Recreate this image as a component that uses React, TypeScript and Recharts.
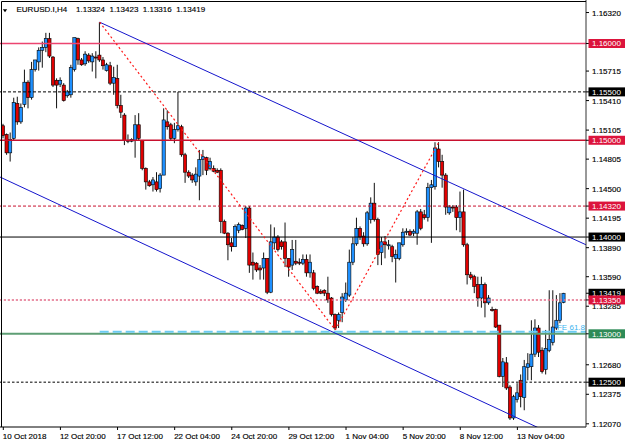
import React from 'react';
import { ComposedChart, Bar, XAxis, YAxis, ReferenceLine } from 'recharts';

const opens = [1.1515,1.1506,1.1487,1.1502,1.1538,1.1519,1.1537,1.1560,1.1544,1.1573,
1.1581,1.1593,1.1596,1.1605,1.1586,1.1562,1.1558,1.1557,1.1546,1.1547,
1.1573,1.1605,1.1583,1.1579,1.1588,1.1581,1.1586,1.1588,1.1583,1.1572,
1.1577,1.1559,1.1564,1.1536,1.1526,1.1500,1.1499,1.1500,1.1516,1.1500,
1.1471,1.1457,1.1454,1.1457,1.1450,1.1464,1.1519,1.1516,1.1502,1.1511,
1.1514,1.1485,1.1467,1.1464,1.1457,1.1463,1.1480,1.1482,1.1471,1.1471,
1.1469,1.1469,1.1416,1.1404,1.1394,1.1390,1.1407,1.1412,1.1409,1.1430,
1.1374,1.1373,1.1368,1.1368,1.1378,1.1343,1.1394,1.1400,1.1395,1.1395,
1.1378,1.1371,1.1375,1.1374,1.1373,1.1377,1.1363,1.1363,1.1349,1.1344,
1.1345,1.1342,1.1337,1.1320,1.1314,1.1322,1.1335,1.1340,1.1374,1.1393,
1.1409,1.1401,1.1393,1.1418,1.1435,1.1418,1.1384,1.1395,1.1391,1.1390,
1.1378,1.1378,1.1392,1.1405,1.1406,1.1404,1.1404,1.1426,1.1423,1.1420,
1.1451,1.1452,1.1491,1.1478,1.1464,1.1425,1.1431,1.1431,1.1420,1.1426,
1.1392,1.1361,1.1359,1.1351,1.1337,1.1351,1.1332,1.1325,1.1325,1.1309,
1.1256,1.1270,1.1245,1.1213,1.1232,1.1252,1.1234,1.1265,1.1266,1.1279,
1.1306,1.1283,1.1263,1.1283,1.1291,1.1306,1.1314,1.13324];

const highs = [1.1517,1.1507,1.1508,1.1544,1.1545,1.1538,1.1573,1.1562,1.1581,1.1583,
1.1596,1.1602,1.1611,1.1611,1.1587,1.1564,1.1565,1.1559,1.1552,1.1578,
1.1606,1.1606,1.1585,1.1592,1.1590,1.1590,1.1592,1.1622,1.1586,1.1580,
1.1581,1.1576,1.1578,1.1547,1.1528,1.1506,1.1502,1.1526,1.1528,1.1500,
1.1472,1.1459,1.1462,1.1467,1.1466,1.1533,1.1531,1.1518,1.1518,1.1550,
1.1516,1.1487,1.1469,1.1466,1.1472,1.1490,1.1490,1.1483,1.1482,1.1474,
1.1471,1.1471,1.1418,1.1405,1.1399,1.1413,1.1415,1.1413,1.1432,1.1432,
1.1384,1.1374,1.1371,1.1384,1.1378,1.1413,1.1410,1.1402,1.1397,1.1415,
1.1378,1.1397,1.1397,1.1378,1.1382,1.1382,1.1382,1.1366,1.1350,1.1346,
1.1346,1.1359,1.1338,1.1321,1.1322,1.1342,1.1353,1.1387,1.1400,1.1420,
1.1411,1.1405,1.1427,1.1441,1.1456,1.1420,1.1400,1.1401,1.1397,1.1392,
1.1387,1.1394,1.1409,1.1409,1.1408,1.1408,1.1428,1.1429,1.1428,1.1456,
1.1459,1.1498,1.1498,1.1485,1.1466,1.1433,1.1433,1.1433,1.1447,1.1449,
1.1394,1.1364,1.1361,1.1359,1.1359,1.1353,1.1340,1.1328,1.1326,1.1309,
1.1275,1.1276,1.1247,1.1237,1.1249,1.1258,1.1273,1.1280,1.1314,1.1315,
1.1309,1.1286,1.1304,1.1345,1.1345,1.1340,1.1342,1.13423];

const lows = [1.1502,1.1485,1.1478,1.1500,1.1516,1.1517,1.1534,1.1533,1.1542,1.1571,
1.1572,1.1575,1.1591,1.1585,1.1555,1.1533,1.1555,1.1540,1.1544,1.1544,
1.1571,1.1578,1.1577,1.1577,1.1580,1.1571,1.1564,1.1581,1.1573,1.1571,
1.1557,1.1547,1.1533,1.1523,1.1495,1.1497,1.1498,1.1482,1.1500,1.1469,
1.1449,1.1452,1.1447,1.1447,1.1446,1.1464,1.1511,1.1500,1.1497,1.1509,
1.1483,1.1456,1.1461,1.1456,1.1453,1.1438,1.1464,1.1464,1.1469,1.1467,
1.1466,1.1404,1.1403,1.1376,1.1385,1.1390,1.1404,1.1407,1.1399,1.1363,
1.1356,1.1364,1.1356,1.1356,1.1341,1.1342,1.1387,1.1385,1.1387,1.1369,
1.1359,1.1366,1.1371,1.1371,1.1371,1.1359,1.1358,1.1345,1.1341,1.1341,
1.1339,1.1332,1.1318,1.1304,1.1306,1.1312,1.1333,1.1338,1.1371,1.1391,
1.1397,1.1390,1.1391,1.1414,1.1416,1.1371,1.1371,1.1378,1.1387,1.1374,
1.1353,1.1376,1.1390,1.1402,1.1401,1.1401,1.1392,1.1407,1.1418,1.1416,
1.1394,1.1449,1.1472,1.1451,1.1423,1.1423,1.1426,1.1407,1.1405,1.1390,
1.1351,1.1356,1.1342,1.1328,1.1327,1.1317,1.1330,1.1323,1.1306,1.1255,
1.1245,1.1242,1.1211,1.1211,1.1229,1.1224,1.1221,1.1252,1.1252,1.1276,
1.1276,1.1259,1.1258,1.1281,1.1288,1.1304,1.1311,1.13316];

const closes = [1.1505,1.1487,1.1501,1.1539,1.1519,1.1534,1.1560,1.1544,1.1573,1.1583,
1.1593,1.1596,1.1605,1.1587,1.1557,1.1557,1.1562,1.1541,1.1550,1.1575,
1.1606,1.1583,1.1578,1.1589,1.1582,1.1587,1.1585,1.1583,1.1577,1.1578,
1.1559,1.1565,1.1536,1.1529,1.1500,1.1499,1.1501,1.1516,1.1502,1.1471,
1.1457,1.1453,1.1459,1.1449,1.1464,1.1521,1.1514,1.1502,1.1511,1.1515,
1.1485,1.1467,1.1463,1.1459,1.1465,1.1480,1.1483,1.1469,1.1478,1.1468,
1.1467,1.1416,1.1404,1.1392,1.1390,1.1411,1.1413,1.1408,1.1430,1.1371,
1.1371,1.1366,1.1366,1.1378,1.1343,1.1395,1.1400,1.1387,1.1390,1.1378,
1.1369,1.1387,1.1373,1.1373,1.1377,1.1363,1.1374,1.1347,1.1342,1.1342,
1.1342,1.1335,1.1320,1.1306,1.1320,1.1338,1.1342,1.1374,1.1393,1.1409,
1.1400,1.1393,1.1425,1.1435,1.1418,1.1382,1.1395,1.1392,1.1392,1.1380,
1.1382,1.1394,1.1405,1.1406,1.1402,1.1406,1.1426,1.1409,1.1420,1.1451,
1.1454,1.1492,1.1478,1.1464,1.1431,1.1431,1.1430,1.1420,1.1426,1.1392,
1.1361,1.1358,1.1349,1.1337,1.1351,1.1332,1.1337,1.1324,1.1307,1.1256,
1.1271,1.1244,1.1213,1.1235,1.1239,1.1235,1.1266,1.1269,1.1279,1.1306,
1.1281,1.1261,1.1285,1.1294,1.1307,1.1314,1.1332,1.13419];

const timeLabelBars = [0, 16, 32, 48, 64, 80, 96, 112, 128, 144];
const timeLabels = ['10 Oct 2018', '12 Oct 20:00', '17 Oct 12:00', '22 Oct 04:00', '24 Oct 20:00',
  '29 Oct 12:00', '1 Nov 04:00', '5 Nov 20:00', '8 Nov 12:00', '13 Nov 04:00'];

const priceTicks = [1.1632, 1.15715, 1.1541, 1.15105, 1.14805, 1.145, 1.14195,
  1.1389, 1.1359, 1.13285, 1.1268, 1.12375, 1.1207];
const markerPrices = [1.155, 1.14, 1.125, 1.16, 1.15, 1.1432, 1.13419, 1.1335, 1.13];
const markerColors = ['#000000', '#000000', '#000000', '#DC143C', '#DC143C', '#DC143C', '#000000', '#DC143C', '#2E8B57'];

const levelPrices = [1.16, 1.155, 1.15, 1.1432, 1.14, 1.1335, 1.13, 1.125];
const levelColors = ['#EC4470', '#000000', '#C8102E', '#C8102E', '#000000', '#E4708C', '#5E9E74', '#555555'];
const levelDashes = ['', '3 2', '', '3 2', '', '2.2 1.8', '', '2.5 2'];
const levelWidths = [1.3, 1, 1.3, 1, 1, 1.6, 2, 1.4];

// fibo expansion anchors (bar index, price)
const fiboBars = [27, 93, 122];
const fiboPrices = [1.1622, 1.1304, 1.1498];
const feLevel = 1.1302;

// channel lines (bar index, price)
const upperChannelBars = [27, 163.22];
const upperChannelPrices = [1.1622, 1.1392];
const lowerChannelBars = [-0.924, 163.22];
const lowerChannelPrices = [1.1462, 1.1180];

const xDomain = [-0.924, 163.22];
const yDomain = [1.12037, 1.164495];

const FONT = 'Liberation Sans, Arial, sans-serif';
const BULL = '#1E90FF';
const BEAR = '#E00000';

const candles = opens.map((o, i) => ({ i, open: o, high: highs[i], low: lows[i], close: closes[i] }));

const Candle = (props: any) => {
  const { x, y, width, height, payload } = props;
  if (x == null || y == null) return null;
  const cx = x + width / 2;
  const top = Math.min(y, y + height);
  const h = Math.abs(height);
  const { high, low, open, close } = payload;
  const k = h / (high - low || 1e-9);
  const yo = top + (high - open) * k;
  const yc = top + (high - close) * k;
  const up = close >= open;
  const by = Math.min(yo, yc);
  const bh = Math.max(Math.abs(yc - yo), 1);
  return (
    <g>
      <line x1={cx} x2={cx} y1={top} y2={top + h} stroke="#111" strokeWidth={1} />
      <rect x={cx - 1.6} y={by} width={3.2} height={bh} fill={up ? BULL : BEAR} stroke="#000" strokeWidth={0.6} />
    </g>
  );
};

const renderXTick = (props: any) => {
  const { x, y, payload } = props;
  const idx = timeLabelBars.indexOf(payload.value);
  return (
    <text x={x - 0.5} y={y + 6.5} fontSize={8} fontFamily={FONT} fill="#000" textAnchor="start"
      stroke="#000" strokeWidth={0.15}>
      {idx >= 0 ? timeLabels[idx] : ''}
    </text>
  );
};

const renderYTick = (props: any) => {
  const { x, y, payload } = props;
  const v = payload.value;
  const mi = markerPrices.indexOf(v);
  const label = Number(v).toFixed(5);
  if (mi >= 0) {
    return (
      <g>
        <rect x={x - 3.5} y={y - 4.5} width={40} height={9} fill={markerColors[mi]} />
        <text x={x} y={y + 3} fontSize={8} fontFamily={FONT} fill="#fff" textAnchor="start">{label}</text>
      </g>
    );
  }
  return (
    <text x={x} y={y + 3} fontSize={8} fontFamily={FONT} fill="#000" textAnchor="start"
      stroke="#000" strokeWidth={0.15}>{label}</text>
  );
};

const feLabel = (props: any) => {
  const vb = props.viewBox || {};
  return (
    <text x={(vb.x || 0) + (vb.width || 0) - 1} y={(vb.y || 0) - 1.5} fontSize={8} fontFamily={FONT}
      fill="#3BB4EE" textAnchor="end">FE 61.8</text>
  );
};

export default function App() {
  return (
    <div style={{ position: 'absolute', left: 0, top: 0, width: 625, height: 446, background: '#fff' }}>
      <ComposedChart width={625} height={446} data={candles} margin={{ top: 0, right: 0, bottom: 0, left: 0 }}>
        <XAxis type="number" dataKey="i" domain={xDomain} allowDataOverflow ticks={timeLabelBars}
          interval={0} tick={renderXTick} tickSize={3} tickMargin={2} height={19}
          axisLine={{ stroke: '#000' }} tickLine={{ stroke: '#000' }} />
        <YAxis yAxisId={0} type="number" orientation="right" domain={yDomain} allowDataOverflow
          ticks={[...priceTicks, ...markerPrices]} interval={0} tick={renderYTick} tickSize={3}
          tickMargin={3} width={39} axisLine={{ stroke: '#333' }} tickLine={{ stroke: '#000' }} />
        <Bar dataKey={(d: any) => [d.low, d.high]} barSize={3} shape={Candle} isAnimationActive={false} />
        {levelPrices.map((p, k) => (
          <ReferenceLine key={'lv' + k} y={p} stroke={levelColors[k]} strokeWidth={levelWidths[k]}
            strokeDasharray={levelDashes[k] || undefined} ifOverflow="hidden" />
        ))}
        <ReferenceLine segment={[{ x: fiboBars[0], y: feLevel }, { x: xDomain[1], y: feLevel }]}
          stroke="#6CCBF2" strokeWidth={2} strokeDasharray="9 4" ifOverflow="hidden" label={feLabel} />
        <ReferenceLine segment={[{ x: upperChannelBars[0], y: upperChannelPrices[0] }, { x: upperChannelBars[1], y: upperChannelPrices[1] }]}
          stroke="#1515CC" strokeWidth={1} ifOverflow="hidden" />
        <ReferenceLine segment={[{ x: lowerChannelBars[0], y: lowerChannelPrices[0] }, { x: lowerChannelBars[1], y: lowerChannelPrices[1] }]}
          stroke="#1515CC" strokeWidth={1} ifOverflow="hidden" />
        <ReferenceLine segment={[{ x: fiboBars[0], y: fiboPrices[0] }, { x: fiboBars[1], y: fiboPrices[1] }]}
          stroke="#FF1A1A" strokeWidth={1.2} strokeDasharray="2 2.5" ifOverflow="hidden" />
        <ReferenceLine segment={[{ x: fiboBars[1], y: fiboPrices[1] }, { x: fiboBars[2], y: fiboPrices[2] }]}
          stroke="#FF1A1A" strokeWidth={1.2} strokeDasharray="2 2.5" ifOverflow="hidden" />
      </ComposedChart>
      <svg width={625} height={446} style={{ position: 'absolute', left: 0, top: 0, pointerEvents: 'none' }}>
        <line x1={1.5} y1={1.5} x2={1.5} y2={427} stroke="#000" strokeWidth={1} />
        <line x1={1.5} y1={1.5} x2={586} y2={1.5} stroke="#000" strokeWidth={1} />
        <path d="M2.8,9.2 L7.2,9.2 L5,12.2 Z" fill="#000" />
        <text x={16.5} y={12.3} fontSize={8} fontFamily={FONT} fill="#000" stroke="#000" strokeWidth={0.15}
          style={{ whiteSpace: 'pre' }}>
          {'EURUSD.I,H4    1.13324  1.13423  1.13316  1.13419'}
        </text>
      </svg>
    </div>
  );
}
